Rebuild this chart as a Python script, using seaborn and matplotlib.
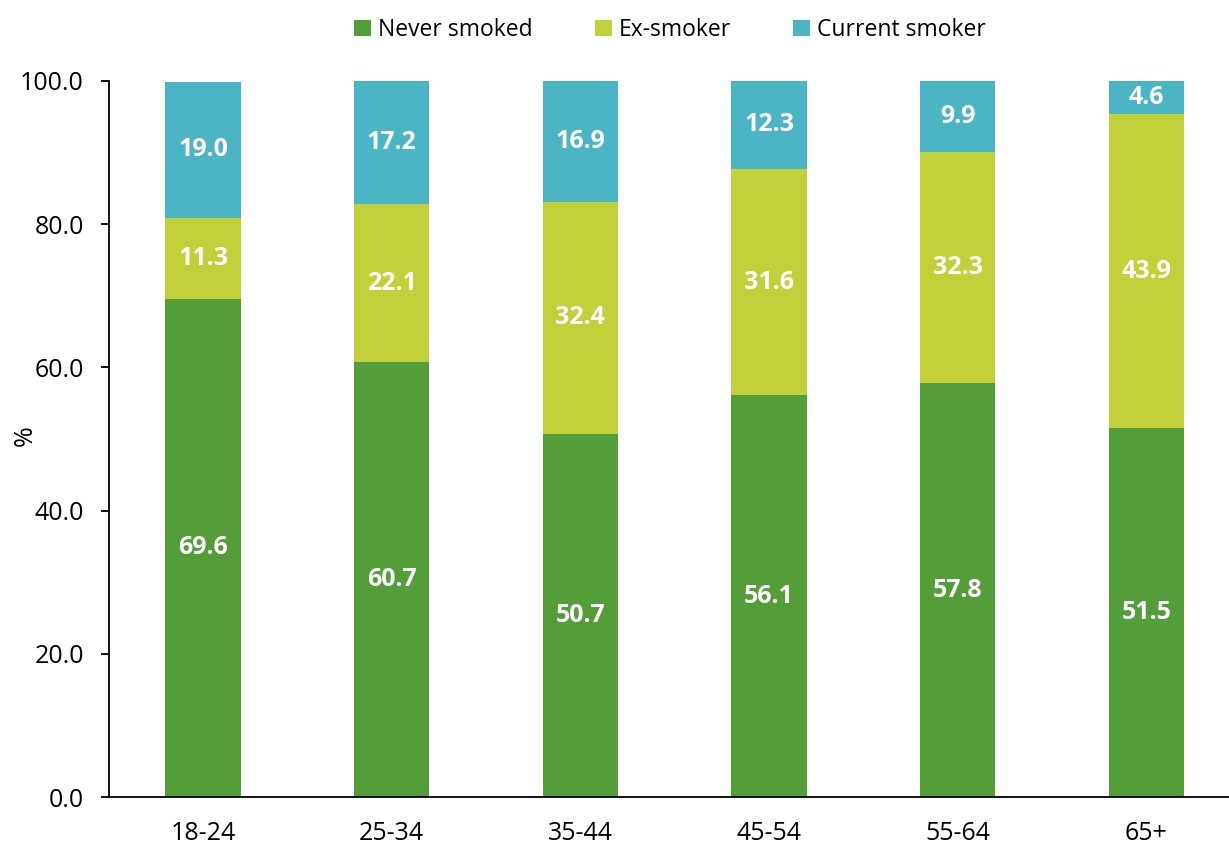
import numpy as np
import pandas as pd
import matplotlib
matplotlib.use("Agg")
import matplotlib.pyplot as plt
import seaborn as sns
from matplotlib.patches import Patch

age_groups = ["18-24", "25-34", "35-44", "45-54", "55-64", "65+"]
never_smoked = [69.6, 60.7, 50.7, 56.1, 57.8, 51.5]
ex_smoker = [11.3, 22.1, 32.4, 31.6, 32.3, 43.9]
current_smoker = [19.0, 17.2, 16.9, 12.3, 9.9, 4.6]

series_names = ["Never smoked", "Ex-smoker", "Current smoker"]
colors = ["#549E39", "#C2D03A", "#4BB5C5"]

sns.set_theme(style="white")
plt.rcParams["font.family"] = ["Open Sans", "DejaVu Sans"]
plt.rcParams["text.color"] = "black"
plt.rcParams["axes.labelcolor"] = "black"
plt.rcParams["xtick.color"] = "black"
plt.rcParams["ytick.color"] = "black"

df = pd.DataFrame({
    "age": age_groups,
    "never": never_smoked,
    "ex": ex_smoker,
    "current": current_smoker,
})
df["top_ex"] = df["never"] + df["ex"]
df["top_cur"] = df["top_ex"] + df["current"]

fig = plt.figure(figsize=(12.29, 8.46), dpi=100)
ax = fig.add_axes([0.0885, 0.0579, 0.921, 0.8464])

# stacked bars drawn as cumulative layers, tallest first
layers = [("top_cur", colors[2]), ("top_ex", colors[1]), ("never", colors[0])]
for col, c in layers:
    sns.barplot(data=df, x="age", y=col, color=c, width=0.4,
                saturation=1, ax=ax, linewidth=0)

# value labels at the middle of each segment
for i, row in df.iterrows():
    segs = [(0, row["never"]), (row["never"], row["ex"]), (row["top_ex"], row["current"])]
    for base, val in segs:
        ax.text(i, base + val / 2, f"{val:.1f}", ha="center", va="center",
                color="white", fontsize=18, fontweight="bold")

ax.set_ylim(0, 100)
ax.set_xlim(-0.5, len(age_groups) - 0.5)
ax.set_yticks(np.arange(0, 101, 20))
ax.set_yticklabels([f"{v:.1f}" for v in np.arange(0, 101, 20)], fontsize=18)
ax.tick_params(axis="y", which="both", left=True, length=6, width=1.3, color="black", pad=12)
ax.tick_params(axis="x", bottom=False, labelsize=18, pad=11)
ax.set_xlabel("")
ax.set_ylabel("%", fontsize=18)
ax.yaxis.set_label_coords(-0.0625, 0.505)

for s in ["top", "right"]:
    ax.spines[s].set_visible(False)
for s in ["left", "bottom"]:
    ax.spines[s].set_color("black")
    ax.spines[s].set_linewidth(1.3)

handles = [Patch(facecolor=c, edgecolor="none") for c in colors]
fig.legend(handles, series_names, loc="upper center", bbox_to_anchor=(0.545, 1.003),
           ncol=3, frameon=False, fontsize=16.5, handlelength=0.75, handleheight=0.75,
           handletextpad=0.3, columnspacing=2.7)

fig.savefig("out.png", dpi=100)
